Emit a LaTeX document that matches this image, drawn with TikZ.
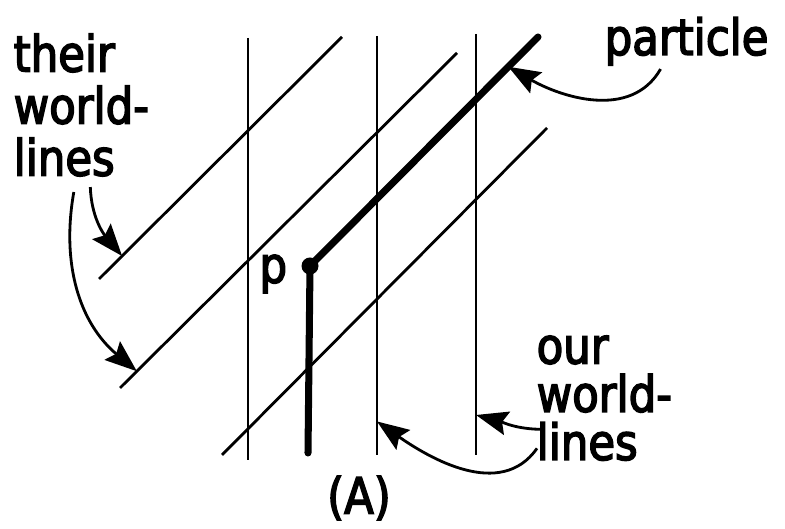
\documentclass[tikz,border=0pt]{standalone}
\usepackage{fontspec}
\setmainfont{DejaVu Sans}[FakeStretch=0.87, FakeBold=3]
\usetikzlibrary{arrows.meta, positioning, calc}
\tikzset{
  wline/.style   = {line width=0.8pt},
  pline/.style   = {line width=2pt, line cap=round},
  lbl/.style     = {font=\fontsize{14.2}{14.8}\selectfont, inner sep=0pt, align=left},
  callout/.style = {-{Stealth[length=3.2mm, width=2.4mm, inset=0.5mm]}, line width=0.8pt},
}

\begin{document}
\begin{tikzpicture}
  \useasboundingbox (0,0) rectangle (7.85,5.29);
  % our world-lines
  \draw[wline] (2.48,4.91) -- (2.48,0.69);
  \draw[wline] (3.77,4.93) -- (3.77,0.74) coordinate[pos=0.92] (ow1);
  \draw[wline] (4.76,4.95) -- (4.76,0.74) coordinate[pos=0.905] (ow2);
  % their world-lines
  \draw[wline] (3.42,4.92) -- (0.99,2.50) coordinate[pos=0.905] (tw1);
  \draw[wline] (4.57,4.76) -- (1.20,1.41) coordinate[pos=0.95] (tw2);
  \draw[wline] (5.47,4.01) -- (2.22,0.74);
  % particle
  \node[circle, fill, inner sep=0pt, minimum size=0.17cm] (P) at (3.10,2.63) {};
  \draw[pline] (3.08,0.76) -- (P.center) -- (5.38,4.92) coordinate[pos=0.87] (pt);
  % labels
  \node[lbl, anchor=north west] (their) at (0.13,4.96) {their\\world-\\lines};
  \node[lbl, anchor=base west] (particle) at (6.04,4.74) {particle};
  \node[lbl, anchor=north west, font=\fontsize{14.2}{13.7}\selectfont] (our) at (5.36,1.94) {our\\world-\\lines};
  \node[lbl, left=0.13cm of P, yshift=-0.08cm] (plab) {p};
  \node[lbl] (caption) at (3.59,0.31) {(A)};
  % pointers
  \draw[callout] ([xshift=0.09cm, yshift=-0.1cm]their.south) to[out=-88, in=130] (tw1);
  \draw[callout] ([xshift=-0.075cm, yshift=-0.15cm]their.south) to[out=-100, in=140] (tw2);
  \draw[callout] ([xshift=-0.26cm, yshift=-0.03cm]particle.south) to[out=-120, in=-30] (pt);
  \draw[callout] ([xshift=0.07cm, yshift=0.32cm]our.south west) to[out=180, in=-15] (ow2);
  \draw[callout] ([xshift=0.01cm, yshift=0.13cm]our.south west) to[out=-125, in=-35] (ow1);
\end{tikzpicture}
\end{document}
